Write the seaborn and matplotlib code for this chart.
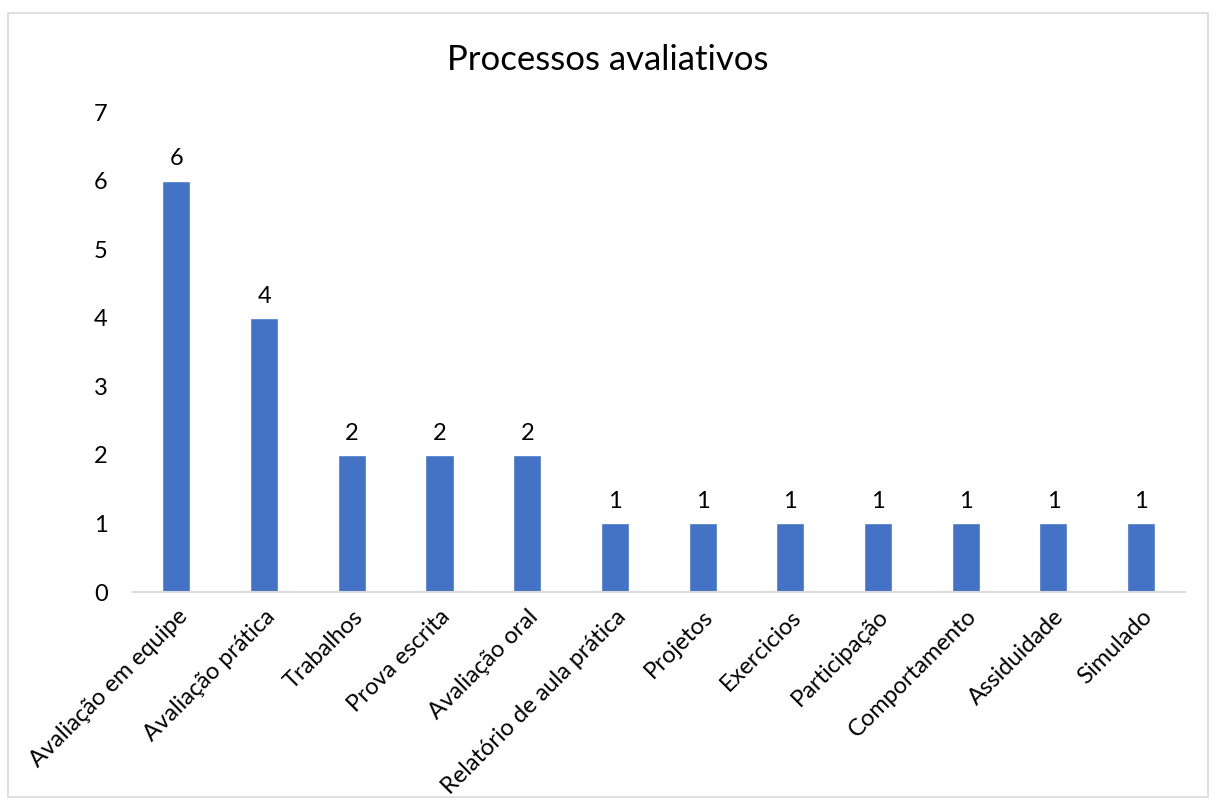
import matplotlib
matplotlib.use("Agg")
import matplotlib.pyplot as plt
import seaborn as sns
import pandas as pd
from matplotlib.patches import Rectangle

categories = ["Avaliação em equipe", "Avaliação prática", "Trabalhos", "Prova escrita",
              "Avaliação oral", "Relatório de aula prática", "Projetos", "Exercicios",
              "Participação", "Comportamento", "Assiduidade", "Simulado"]
values = [6, 4, 2, 2, 2, 1, 1, 1, 1, 1, 1, 1]
yticks = [0, 1, 2, 3, 4, 5, 6, 7]
title = "Processos avaliativos"

sns.set_theme(style="white")
plt.rcParams["font.family"] = ["Lato", "DejaVu Sans"]

df = pd.DataFrame({"cat": categories, "val": values})

fig = plt.figure(figsize=(12.16, 8.06), dpi=100)
ax = fig.add_axes([0.109, 0.2655, 0.8655, 0.5955])
sns.barplot(data=df, x="cat", y="val", color="#4472C4", width=0.32, ax=ax, saturation=1)

ax.set_xlim(-0.5, len(categories) - 0.5)
ax.set_ylim(0, 7)
ax.set_yticks(yticks)
ax.set_yticklabels([str(t) for t in yticks], fontsize=17, color="black")
ax.set_xticks(range(len(categories)))
ax.set_xticklabels(categories, rotation=45, ha="right", rotation_mode="anchor", fontsize=17, color="black")
ax.tick_params(axis="both", length=0)
ax.tick_params(axis="y", pad=18)
ax.tick_params(axis="x", pad=10)
ax.set_xlabel("")
ax.set_ylabel("")
for s in ["top", "right", "left"]:
    ax.spines[s].set_visible(False)
ax.spines["bottom"].set_color("#D9D9D9")
ax.spines["bottom"].set_linewidth(1.5)

for c in ax.containers:
    ax.bar_label(c, labels=[str(v) for v in values], padding=8, fontsize=17, color="black")

fig.text(0.5, 0.925, title, ha="center", va="center", fontsize=25, color="black")
fig.patches.append(Rectangle((0.0066, 0.011), 0.9868, 0.973, transform=fig.transFigure,
                             fill=False, edgecolor="#D9D9D9", linewidth=1.2))

fig.savefig("out.png", dpi=100)
